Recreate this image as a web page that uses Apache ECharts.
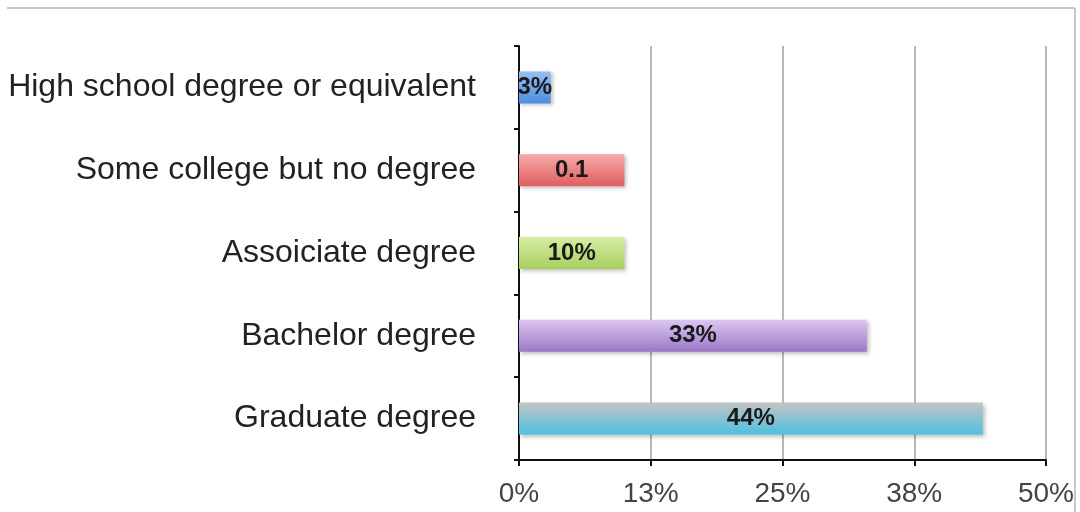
<!DOCTYPE html>
<html><head><meta charset="utf-8">
<script src="https://cdn.jsdelivr.net/npm/echarts@6/dist/echarts.min.js"></script>
<style>html,body{margin:0;padding:0;background:#fff;}#c{width:1080px;height:512px;}</style>
</head><body><div id="c"></div>
<script>
var categories = ['Graduate degree','Bachelor degree','Assoiciate degree','Some college but no degree','High school degree or equivalent'];
var values = [44, 33, 10, 10, 3];
var valueLabels = ['44%','33%','10%','0.1','3%'];
var tickLabels = ['0%','13%','25%','38%','50%'];
var barColors = [
  ['#c4c4c4','#4cc0e0'],
  ['#dcc6f2','#9a78c6'],
  ['#d8eea4','#a6cf5e'],
  ['#f4aaaa','#e05e5e'],
  ['#96bff0','#4d8ee0']
];
var chart = echarts.init(document.getElementById('c'));
chart.setOption({
  animation:false,
  grid:{left:519,right:34,top:46,bottom:52},
  graphic:[
    {type:'line',shape:{x1:7,y1:8,x2:1075,y2:8},style:{stroke:'#c8c8c8',lineWidth:2}},
    {type:'line',shape:{x1:1075,y1:8,x2:1075,y2:512},style:{stroke:'#c8c8c8',lineWidth:2}}
  ],
  xAxis:{type:'value',min:0,max:50,interval:12.5,
    axisLine:{show:true,lineStyle:{color:'#111',width:2}},
    axisTick:{show:true,length:6,lineStyle:{color:'#111',width:2}},
    splitLine:{show:true,lineStyle:{color:'#b8b8b8',width:2}},
    axisLabel:{margin:20,fontFamily:'Liberation Sans',fontSize:28,color:'#444',
      formatter:function(v){return tickLabels[Math.round(v/12.5)];}}
  },
  yAxis:{type:'category',data:categories,
    axisLine:{show:true,lineStyle:{color:'#111',width:2}},
    axisTick:{show:true,length:5,lineStyle:{color:'#111',width:2}},
    axisLabel:{margin:43,fontFamily:'Liberation Sans',fontSize:32,color:'#222'}
  },
  series:[{type:'bar',barWidth:32,
    data:values.map(function(v,i){return {value:v,itemStyle:{color:new echarts.graphic.LinearGradient(0,0,0,1,[{offset:0,color:barColors[i][0]},{offset:1,color:barColors[i][1]}]),shadowColor:'rgba(0,0,0,0.25)',shadowBlur:4,shadowOffsetX:2,shadowOffsetY:2}};}),
    label:{show:true,position:'inside',fontFamily:'Liberation Sans',fontWeight:'bold',fontSize:24,color:'#1a1a1a',
      formatter:function(p){return valueLabels[p.dataIndex];}}
  }]
});
</script></body></html>
